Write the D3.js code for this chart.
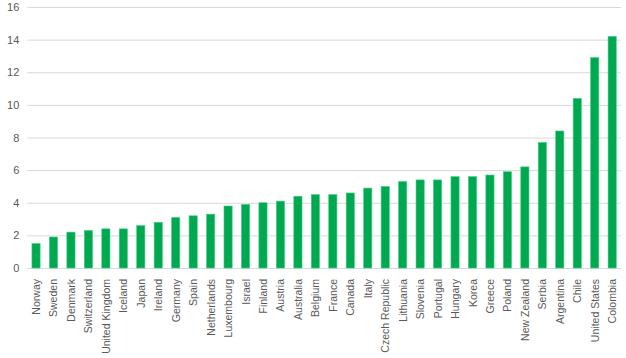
<!DOCTYPE html>
<html><head><meta charset="utf-8">
<script src="https://cdn.jsdelivr.net/npm/d3@7"></script>
<style>html,body{margin:0;padding:0;background:#fff;}</style>
</head><body>
<svg id="c" width="626" height="358"></svg>
<script>
const categories = ["Norway","Sweden","Denmark","Switzerland","United Kingdom","Iceland","Japan","Ireland","Germany","Spain","Netherlands","Luxembourg","Israel","Finland","Austria","Australia","Belgium","France","Canada","Italy","Czech Republic","Lithuania","Slovenia","Portugal","Hungary","Korea","Greece","Poland","New Zealand","Serbia","Argentina","Chile","United States","Colombia"];
const values = [1.5,1.9,2.2,2.3,2.4,2.4,2.6,2.8,3.1,3.2,3.3,3.8,3.9,4.0,4.1,4.4,4.5,4.5,4.6,4.9,5.0,5.3,5.4,5.4,5.6,5.6,5.7,5.9,6.2,7.7,8.4,10.4,12.9,14.2];
const yTicks = [0,2,4,6,8,10,12,14,16];

const svg = d3.select("#c");
const mLeft = 27.3, mRight = 620.9, mTop = 7, mBottom = 268;
const x = d3.scaleBand().domain(categories).range([mLeft, mRight]).paddingInner(0.53).paddingOuter(0.265);
const y = d3.scaleLinear().domain([0,16]).range([mBottom, mTop]);
const font = "'Liberation Sans', Arial, sans-serif";

// y axis with gridlines
const ya = svg.append("g").attr("transform", `translate(${mLeft},0)`)
  .call(d3.axisLeft(y).tickValues(yTicks).tickSize(-(mRight - mLeft)).tickPadding(8));
ya.select(".domain").remove();
ya.selectAll(".tick line").attr("stroke", "#d9d9d9");
ya.selectAll(".tick text").attr("font-family", font).attr("font-size", 11).attr("fill", "#595959");

svg.append("g").selectAll("rect").data(values).join("rect")
  .attr("x", (d,i) => x(categories[i]))
  .attr("width", x.bandwidth())
  .attr("y", d => y(d))
  .attr("height", d => y(0) - y(d))
  .attr("fill", "#00a94f")
  .attr("stroke", "#3ed08a").attr("stroke-width", 0.6);

// x axis labels
const xa = svg.append("g").attr("transform", `translate(0,${mBottom})`)
  .call(d3.axisBottom(x).tickSize(0).tickPadding(0));
xa.select(".domain").remove();
const xt = xa.selectAll(".tick text")
  .attr("transform", "translate(4,11) rotate(-90)")
  .attr("text-anchor", "end").attr("dy", null).attr("y", 0)
  .attr("font-family", font).attr("font-size", 11).attr("fill", "#595959");
// fit longest label to the space the reference uses (~75px)
let maxW = 0;
xt.each(function(){ maxW = Math.max(maxW, this.getComputedTextLength()); });
if (maxW > 75) xt.attr("font-size", 11 * 75 / maxW);
</script>
</body></html>
